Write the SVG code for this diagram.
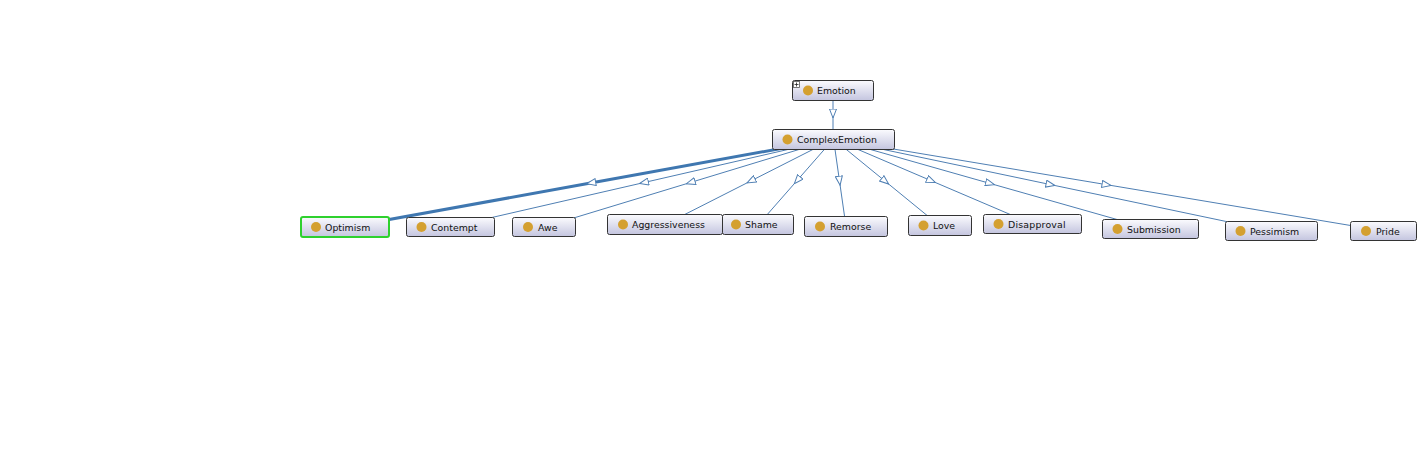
<svg xmlns="http://www.w3.org/2000/svg" width="1418" height="452" viewBox="0 0 1418 452">
<defs>
<linearGradient id="g" x1="0" y1="0" x2="0" y2="1">
<stop offset="0" stop-color="#fbfbfe"/>
<stop offset="1" stop-color="#c4c5df"/>
</linearGradient>
<marker id="tri" viewBox="0 0 10 8" refX="7" refY="4" markerWidth="10" markerHeight="8" markerUnits="userSpaceOnUse" orient="auto">
<path d="M0.5,0.5 L9.5,4 L0.5,7.5 Z" fill="#ffffff" stroke="#4f7fb3" stroke-width="1"/>
</marker>
</defs>
<style>
.box{fill:url(#g);stroke:#333333;stroke-width:1}
.sel{fill:url(#g);stroke:#2ed12e;stroke-width:2}
.dot{fill:#d4a030}
.lbl{font-family:"DejaVu Sans",sans-serif;font-size:9.4px;fill:#111111}
.e{fill:none;stroke:#4f7fb3;stroke-width:1;marker-mid:url(#tri)}
.thick{stroke:#3f77b0;stroke-width:3}
</style>
<rect width="1418" height="452" fill="#ffffff"/>
<g id="connectors">
<path class="e" d="M833 91 L833 115.5 L833 139"/>
<path class="e thick" d="M833.5 139 L589.25 183.25 L345 227.5"/>
<path class="e" d="M833.5 139 L642 183 L450.5 227"/>
<path class="e" d="M833.5 139 L688.75 183 L544 227"/>
<path class="e" d="M833.5 139 L749.25 181.75 L665 224.5"/>
<path class="e" d="M833.5 139 L796 181.75 L758.5 224.5"/>
<path class="e" d="M833.5 139 L839.75 182.75 L846 226.5"/>
<path class="e" d="M833.5 139 L886.75 182.5 L940 226"/>
<path class="e" d="M833.5 139 L933 181.5 L1032.5 224"/>
<path class="e" d="M833.5 139 L992 184 L1150.5 229"/>
<path class="e" d="M833.5 139 L1052.5 185 L1271.5 231"/>
<path class="e" d="M833.5 139 L1108.5 185 L1383.5 231"/>
</g>
<g id="Emotion">
<rect class="box" x="792.5" y="80.5" width="81" height="20" rx="2"/>
<rect x="793.5" y="81.5" width="6" height="6" fill="#ffffff" stroke="#555555" stroke-width="0.8"/>
<path d="M794.5 84.5 H798.5 M796.5 82.5 V86.5" stroke="#222222" stroke-width="0.8"/>
<circle class="dot" cx="808" cy="90.5" r="5"/>
<text class="lbl" x="817" y="94">Emotion</text>
</g>
<g id="ComplexEmotion">
<rect class="box" x="772.5" y="129.5" width="122" height="20" rx="2"/>
<circle class="dot" cx="787.5" cy="139.5" r="5"/>
<text class="lbl" x="797" y="143">ComplexEmotion</text>
</g>
<g id="Optimism">
<rect class="sel" x="301" y="217" width="88" height="20" rx="2"/>
<circle class="dot" cx="316" cy="227" r="5"/>
<text class="lbl" x="325" y="230.5">Optimism</text>
</g>
<g id="Contempt">
<rect class="box" x="406.5" y="217.5" width="88" height="19" rx="2"/>
<circle class="dot" cx="421.5" cy="227" r="5"/>
<text class="lbl" x="431" y="230.5">Contempt</text>
</g>
<g id="Awe">
<rect class="box" x="512.5" y="217.5" width="63" height="19" rx="2"/>
<circle class="dot" cx="528" cy="227" r="5"/>
<text class="lbl" x="538" y="230.5">Awe</text>
</g>
<g id="Aggressiveness">
<rect class="box" x="607.5" y="214.5" width="115" height="20" rx="2"/>
<circle class="dot" cx="623" cy="224.5" r="5"/>
<text class="lbl" x="632" y="228">Aggressiveness</text>
</g>
<g id="Shame">
<rect class="box" x="722.5" y="214.5" width="71" height="20" rx="2"/>
<circle class="dot" cx="736" cy="224.5" r="5"/>
<text class="lbl" x="745" y="228">Shame</text>
</g>
<g id="Remorse">
<rect class="box" x="804.5" y="216.5" width="83" height="20" rx="2"/>
<circle class="dot" cx="820" cy="226.5" r="5"/>
<text class="lbl" x="830" y="230">Remorse</text>
</g>
<g id="Love">
<rect class="box" x="908.5" y="215.5" width="63" height="20" rx="2"/>
<circle class="dot" cx="923.5" cy="225.5" r="5"/>
<text class="lbl" x="933" y="229">Love</text>
</g>
<g id="Disapproval">
<rect class="box" x="983.5" y="214.5" width="98" height="19" rx="2"/>
<circle class="dot" cx="998.5" cy="224" r="5"/>
<text class="lbl" x="1008" y="227.5" letter-spacing="0.2">Disapproval</text>
</g>
<g id="Submission">
<rect class="box" x="1102.5" y="219.5" width="96" height="19" rx="2"/>
<circle class="dot" cx="1117.5" cy="229" r="5"/>
<text class="lbl" x="1127" y="232.5">Submission</text>
</g>
<g id="Pessimism">
<rect class="box" x="1225.5" y="221.5" width="92" height="19" rx="2"/>
<circle class="dot" cx="1240.5" cy="231" r="5"/>
<text class="lbl" x="1250" y="234.5">Pessimism</text>
</g>
<g id="Pride">
<rect class="box" x="1350.5" y="221.5" width="66" height="19" rx="2"/>
<circle class="dot" cx="1366" cy="231" r="5"/>
<text class="lbl" x="1376" y="234.5">Pride</text>
</g>
</svg>
